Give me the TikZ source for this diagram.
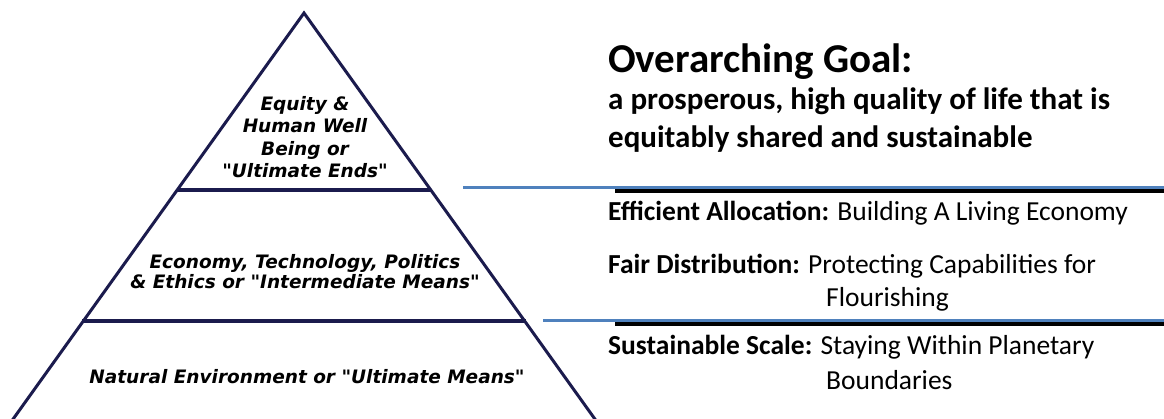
\documentclass[tikz,border=0pt]{standalone}
\usepackage{fontspec}
\setmainfont{Carlito}
\newfontfamily\pyrfont{DejaVu Sans}
\definecolor{pyrnavy}{HTML}{1B1B4D}
\definecolor{ruleblue}{HTML}{4F81BD}
\begin{document}
\begin{tikzpicture}[x=1pt, y=-1pt,
  edge/.style={pyrnavy, line width=3pt},
  tier/.style={font=\pyrfont\bfseries\itshape\fontsize{18.5}{22.5}\selectfont, align=center, inner sep=0pt},
  bluerule/.style={ruleblue, line width=2.6pt},
  blackrule/.style={black, line width=4pt},
  goaltxt/.style={anchor=base west, inner sep=0pt}]
\fill[white] (0,0) rectangle (1164,419);
\useasboundingbox (0,0) rectangle (1164,419);
% pyramid
\coordinate (apex) at (304,13);
\coordinate (bl) at (11,422);
\coordinate (br) at (597,422);
\coordinate (t1l) at (177,190);
\coordinate (t1r) at (431,190);
\coordinate (t2l) at (82,321);
\coordinate (t2r) at (526,321);
\draw[edge, line join=miter] (bl) -- (apex) -- (br);
\draw[edge, line width=3.4pt] (t1l) -- (t1r);
\draw[edge, line width=3.4pt] (t2l) -- (t2r);
\node[tier] (ends) at (305,137) {Equity \&\\Human Well\\Being or\\"Ultimate Ends"};
\node[tier, font=\pyrfont\bfseries\itshape\fontsize{18.5}{20}\selectfont] (inter) at (305,272) {Economy, Technology, Politics\\\& Ethics or "Intermediate Means"};
\node[tier] (natural) at (307,377) {Natural Environment or "Ultimate Means"};
% separators
\coordinate (b1l) at (463,187.5);
\coordinate (b1r) at (1164,187.5);
\coordinate (k1l) at (615,191);
\coordinate (k1r) at (1164,191);
\coordinate (b2l) at (543,320.5);
\coordinate (b2r) at (1164,320.5);
\coordinate (k2l) at (615,324);
\coordinate (k2r) at (1164,324);
\draw[blackrule] (k1l) -- (k1r);
\draw[bluerule] (b1l) -- (b1r);
\draw[blackrule] (k2l) -- (k2r);
\draw[bluerule] (b2l) -- (b2r);
% goal text
\node[goaltxt, font=\bfseries\fontsize{41}{48}\selectfont] (goal) at (608,73) {Overarching Goal:};
\node[goaltxt, font=\bfseries\fontsize{31}{38}\selectfont] (goal1) at (608,110) {a prosperous, high quality of life that is};
\node[goaltxt, font=\bfseries\fontsize{31}{38}\selectfont] (goal2) at (608,148) {equitably shared and sustainable};
\node[goaltxt, font=\fontsize{27.5}{33}\selectfont] (alloc) at (608,221) {\textbf{Efficient Allocation:} Building A Living Economy};
\node[goaltxt, font=\fontsize{27.5}{33}\selectfont] (distr) at (608,274) {\textbf{Fair Distribution:} Protecting Capabilities for};
\node[goaltxt, font=\fontsize{27.5}{33}\selectfont] (distr2) at (826,307) {Flourishing};
\node[goaltxt, font=\fontsize{27.5}{33}\selectfont] (scale) at (608,355) {\textbf{Sustainable Scale:} Staying Within Planetary};
\node[goaltxt, font=\fontsize{27.5}{33}\selectfont] (scale2) at (826,389) {Boundaries};
\end{tikzpicture}
\end{document}
